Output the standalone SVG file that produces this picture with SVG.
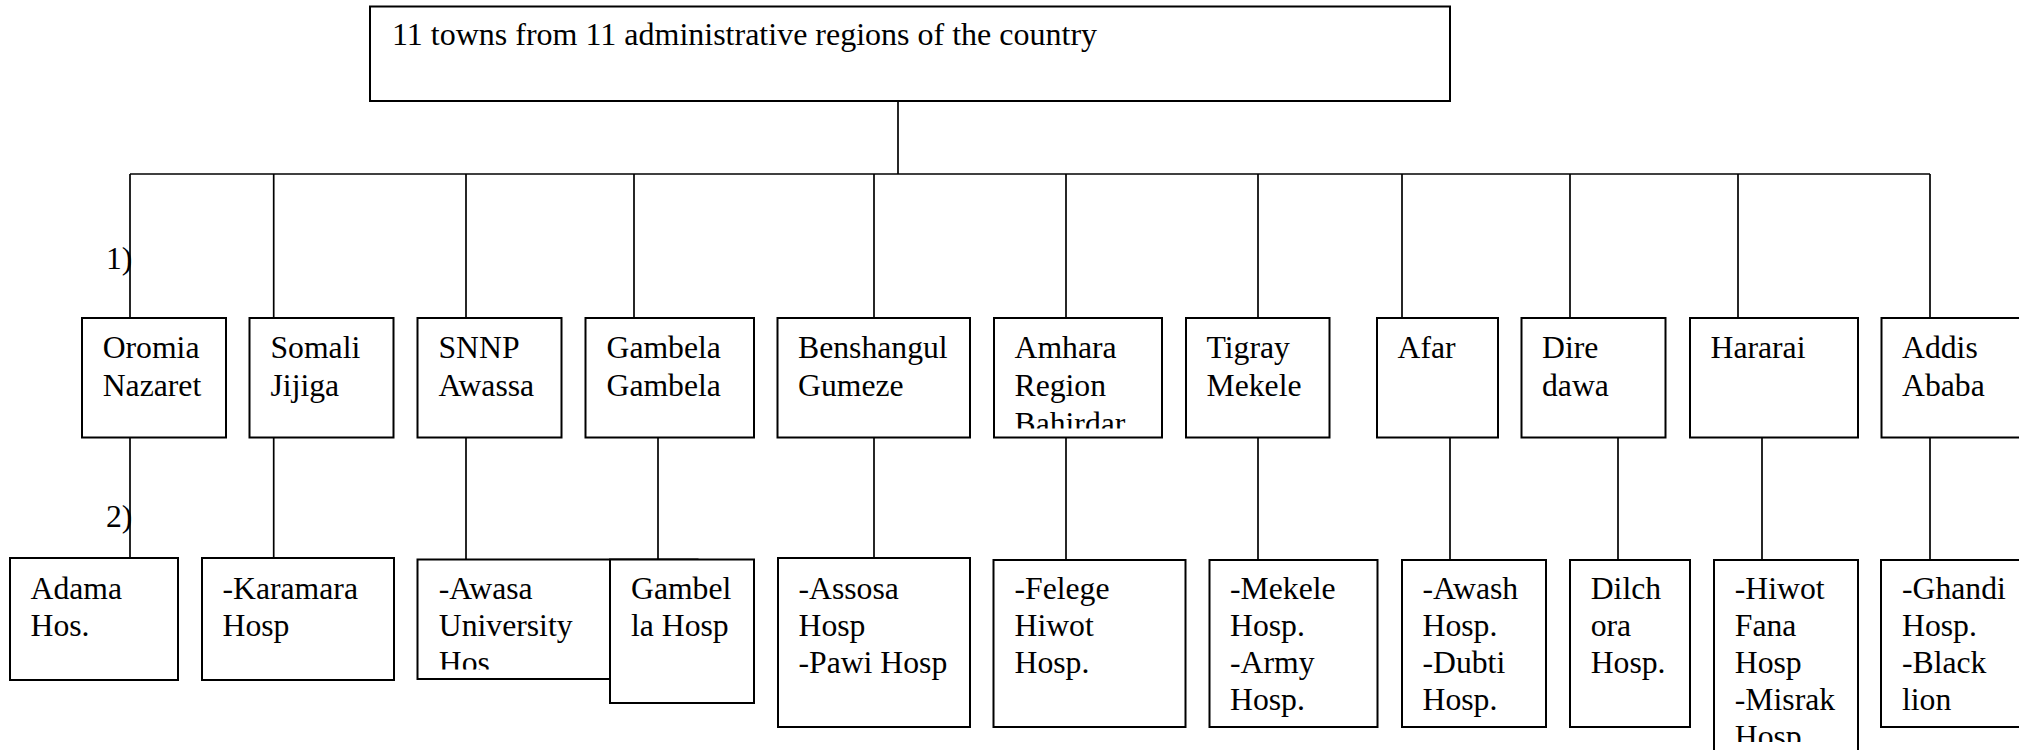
<svg xmlns="http://www.w3.org/2000/svg" width="2019" height="750" viewBox="0 0 2019 750">
<style>
  .box { fill: #ffffff; stroke: #000000; stroke-width: 2; }
  .line { fill: none; stroke: #000000; stroke-width: 1.7; }
  text { font-family: "Liberation Serif", "Times New Roman", serif; font-size: 31.7px; fill: #000000; }
  .roottext { font-size: 32px; }
</style>
<defs>
  <clipPath id="clipAmhara"><rect x="990" y="317" width="175" height="111.5"/></clipPath>
  <clipPath id="clipAwasa"><rect x="415" y="558" width="200" height="111.5"/></clipPath>
  <clipPath id="clipHiwot"><rect x="1710" y="558" width="150" height="184"/></clipPath>
</defs>
<rect x="0" y="0" width="2019" height="750" fill="#ffffff"/>

<g id="connectors">
  <line class="line" x1="898" y1="101" x2="898" y2="174"/>
  <line class="line" x1="130" y1="174" x2="1930" y2="174"/>
  <line class="line" x1="130" y1="174" x2="130" y2="318"/>
  <line class="line" x1="273.7" y1="174" x2="273.7" y2="318"/>
  <line class="line" x1="466" y1="174" x2="466" y2="318"/>
  <line class="line" x1="634" y1="174" x2="634" y2="318"/>
  <line class="line" x1="874" y1="174" x2="874" y2="318"/>
  <line class="line" x1="1066" y1="174" x2="1066" y2="318"/>
  <line class="line" x1="1258" y1="174" x2="1258" y2="318"/>
  <line class="line" x1="1402" y1="174" x2="1402" y2="318"/>
  <line class="line" x1="1570" y1="174" x2="1570" y2="318"/>
  <line class="line" x1="1738" y1="174" x2="1738" y2="318"/>
  <line class="line" x1="1930" y1="174" x2="1930" y2="318"/>
  <line class="line" x1="130" y1="437" x2="130" y2="560"/>
  <line class="line" x1="273.7" y1="437" x2="273.7" y2="560"/>
  <line class="line" x1="466" y1="437" x2="466" y2="560"/>
  <line class="line" x1="658" y1="437" x2="658" y2="560"/>
  <line class="line" x1="874" y1="437" x2="874" y2="560"/>
  <line class="line" x1="1066" y1="437" x2="1066" y2="560"/>
  <line class="line" x1="1258" y1="437" x2="1258" y2="560"/>
  <line class="line" x1="1450" y1="437" x2="1450" y2="560"/>
  <line class="line" x1="1618" y1="437" x2="1618" y2="560"/>
  <line class="line" x1="1762" y1="437" x2="1762" y2="560"/>
  <line class="line" x1="1930" y1="437" x2="1930" y2="560"/>
</g>

<g id="labels">
  <text x="106" y="269">1)</text>
  <text x="106" y="527">2)</text>
</g>

<g id="root">
  <rect class="box" x="370" y="6.5" width="1080" height="94.5"/>
  <text class="roottext" x="392" y="45">11 towns from 11 administrative regions of the country</text>
</g>

<g id="oromia">
  <rect class="box" x="82" y="318" width="144" height="119.5"/>
  <text x="102.7" y="357.5">Oromia<tspan x="102.7" dy="38">Nazaret</tspan></text>
</g>
<g id="somali">
  <rect class="box" x="249.5" y="318" width="144" height="119.5"/>
  <text x="270.5" y="357.5">Somali<tspan x="270.5" dy="38">Jijiga</tspan></text>
</g>
<g id="snnp">
  <rect class="box" x="417.5" y="318" width="144" height="119.5"/>
  <text x="438.5" y="357.5">SNNP<tspan x="438.5" dy="38">Awassa</tspan></text>
</g>
<g id="gambela">
  <rect class="box" x="585.5" y="318" width="168.5" height="119.5"/>
  <text x="606.5" y="357.5">Gambela<tspan x="606.5" dy="38">Gambela</tspan></text>
</g>
<g id="benshangul">
  <rect class="box" x="777.5" y="318" width="192.5" height="119.5"/>
  <text x="798" y="357.5">Benshangul<tspan x="798" dy="38">Gumeze</tspan></text>
</g>
<g id="amhara">
  <rect class="box" x="994" y="318" width="168" height="119.5"/>
  <text x="1014.5" y="357.5" clip-path="url(#clipAmhara)">Amhara<tspan x="1014.5" dy="38">Region</tspan><tspan x="1014.5" dy="38">Bahirdar</tspan></text>
</g>
<g id="tigray">
  <rect class="box" x="1186" y="318" width="143.5" height="119.5"/>
  <text x="1206.5" y="357.5">Tigray<tspan x="1206.5" dy="38">Mekele</tspan></text>
</g>
<g id="afar">
  <rect class="box" x="1377" y="318" width="121" height="119.5"/>
  <text x="1397.5" y="357.5">Afar</text>
</g>
<g id="diredawa">
  <rect class="box" x="1521.5" y="318" width="144" height="119.5"/>
  <text x="1542" y="357.5">Dire<tspan x="1542" dy="38">dawa</tspan></text>
</g>
<g id="hararai">
  <rect class="box" x="1690" y="318" width="168" height="119.5"/>
  <text x="1710.5" y="357.5">Hararai</text>
</g>
<g id="addis">
  <rect class="box" x="1881.5" y="318" width="150" height="119.5"/>
  <text x="1902" y="357.5">Addis<tspan x="1902" dy="38">Ababa</tspan></text>
</g>

<g id="adama">
  <rect class="box" x="10" y="558" width="168" height="122"/>
  <text x="30.5" y="598.5">Adama<tspan x="30.5" dy="37">Hos.</tspan></text>
</g>
<g id="karamara">
  <rect class="box" x="202" y="558" width="192" height="122"/>
  <text x="222.5" y="598.5">-Karamara<tspan x="222.5" dy="37">Hosp</tspan></text>
</g>
<g id="awasa">
  <rect class="box" x="417.5" y="559.5" width="280" height="119.5"/>
  <text x="438.8" y="598.5" clip-path="url(#clipAwasa)">-Awasa<tspan x="438.8" dy="37">University</tspan><tspan x="438.8" dy="37">Hos</tspan></text>
</g>
<g id="gambelahosp">
  <rect class="box" x="610" y="559.5" width="144" height="143.5"/>
  <text x="631" y="599">Gambel<tspan x="631" dy="37">la Hosp</tspan></text>
</g>
<g id="assosa">
  <rect class="box" x="778" y="558" width="192" height="169"/>
  <text x="798.5" y="598.5">-Assosa<tspan x="798.5" dy="37">Hosp</tspan><tspan x="798.5" dy="37">-Pawi Hosp</tspan></text>
</g>
<g id="felege">
  <rect class="box" x="993.5" y="560" width="192" height="167"/>
  <text x="1014.5" y="598.5">-Felege<tspan x="1014.5" dy="37">Hiwot</tspan><tspan x="1014.5" dy="37">Hosp.</tspan></text>
</g>
<g id="mekelehosp">
  <rect class="box" x="1209.5" y="560" width="168" height="167"/>
  <text x="1230" y="598.5">-Mekele<tspan x="1230" dy="37">Hosp.</tspan><tspan x="1230" dy="37">-Army</tspan><tspan x="1230" dy="37">Hosp.</tspan></text>
</g>
<g id="awash">
  <rect class="box" x="1402" y="560" width="144" height="167"/>
  <text x="1422.5" y="598.5">-Awash<tspan x="1422.5" dy="37">Hosp.</tspan><tspan x="1422.5" dy="37">-Dubti</tspan><tspan x="1422.5" dy="37">Hosp.</tspan></text>
</g>
<g id="dilchora">
  <rect class="box" x="1570" y="560" width="120" height="167"/>
  <text x="1590.7" y="598.5">Dilch<tspan x="1590.7" dy="37">ora</tspan><tspan x="1590.7" dy="37">Hosp.</tspan></text>
</g>
<g id="hiwot">
  <rect class="box" x="1714" y="560" width="144" height="200"/>
  <text x="1734.8" y="598.5" clip-path="url(#clipHiwot)">-Hiwot<tspan x="1734.8" dy="37">Fana</tspan><tspan x="1734.8" dy="37">Hosp</tspan><tspan x="1734.8" dy="37">-Misrak</tspan><tspan x="1734.8" dy="37">Hosp.</tspan></text>
</g>
<g id="ghandi">
  <rect class="box" x="1881" y="560" width="150" height="167"/>
  <text x="1902" y="598.5">-Ghandi<tspan x="1902" dy="37">Hosp.</tspan><tspan x="1902" dy="37">-Black</tspan><tspan x="1902" dy="37">lion</tspan></text>
</g>
</svg>
